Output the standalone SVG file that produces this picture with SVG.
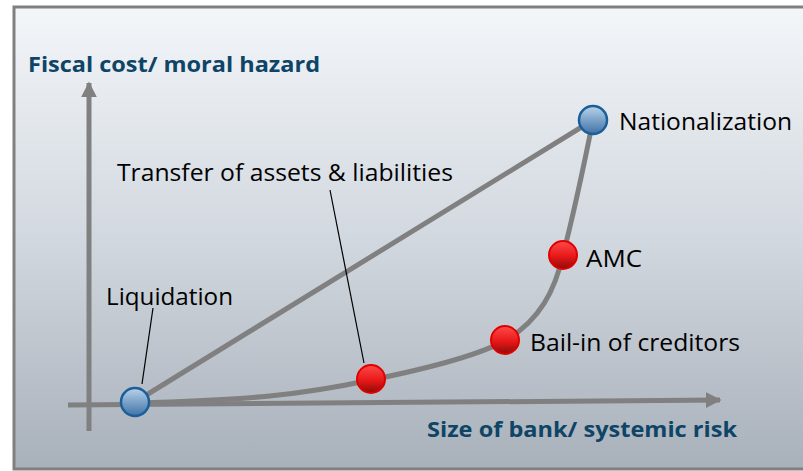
<svg xmlns="http://www.w3.org/2000/svg" width="803" height="471" viewBox="0 0 803 471">
<defs>
<linearGradient id="bg" x1="0" y1="0" x2="0" y2="1">
<stop offset="0" stop-color="#f3f6f9"/>
<stop offset="0.5" stop-color="#d2d8df"/>
<stop offset="1" stop-color="#a8b0ba"/>
</linearGradient>
<linearGradient id="blue" x1="0" y1="0" x2="0" y2="1">
<stop offset="0" stop-color="#b9d3ea"/>
<stop offset="1" stop-color="#3f72a6"/>
</linearGradient>
<linearGradient id="red" x1="0" y1="0" x2="0" y2="1">
<stop offset="0" stop-color="#ff4a4a"/>
<stop offset="0.55" stop-color="#e81818"/>
<stop offset="1" stop-color="#8e0a0a"/>
</linearGradient>
<marker id="ah" viewBox="0 0 10 10" refX="9" refY="5" markerWidth="3.2" markerHeight="3.2" markerUnits="strokeWidth" orient="auto">
<path d="M0,0 L10,5 L0,10 Z" fill="#808080"/>
</marker>
<style>
.axis{stroke:#808080;stroke-width:5;fill:none}
.curve{stroke:#808080;stroke-width:5;fill:none}
.lead{stroke:#000;stroke-width:1.2;fill:none}
.bn{fill:url(#blue);stroke:#1a5f99;stroke-width:2.5}
.rn{fill:url(#red);stroke:#e00000;stroke-width:2}
.lbl{font-family:"Open Sans","Noto Sans","Liberation Sans",sans-serif;font-size:23px;fill:#000}
.ttl{font-family:"Open Sans","Noto Sans","Liberation Sans",sans-serif;font-size:22px;font-weight:bold;fill:#0e4466}
</style>
</defs>
<rect x="14" y="7" width="795" height="462" fill="url(#bg)" stroke="#808080" stroke-width="3"/>
<g id="connectors">
<line class="axis" x1="89" y1="431" x2="89" y2="83" marker-end="url(#ah)"/>
<line class="axis" x1="68" y1="405" x2="720" y2="400" marker-end="url(#ah)"/>
<line class="curve" x1="135" y1="402" x2="593" y2="120"/>
<path class="curve" d="M135,403 C250,400 300,395 371,380 C430,368 480,355 506,340 C540,320 555,290 563,255 C572,220 585,160 593,120"/>
<line class="lead" x1="153" y1="308" x2="142" y2="384"/>
<line class="lead" x1="330" y1="190" x2="364" y2="363"/>
</g>
<g id="liquidation">
<circle class="bn" cx="135" cy="402" r="14"/>
<text class="lbl" x="106" y="305" textLength="127" lengthAdjust="spacingAndGlyphs">Liquidation</text>
</g>
<g id="nationalization">
<circle class="bn" cx="593" cy="120" r="14"/>
<text class="lbl" x="619" y="130" textLength="173" lengthAdjust="spacingAndGlyphs">Nationalization</text>
</g>
<g id="transfer">
<circle class="rn" cx="371" cy="379" r="14"/>
<text class="lbl" x="117" y="181" textLength="336" lengthAdjust="spacingAndGlyphs">Transfer of assets &amp; liabilities</text>
</g>
<g id="bailin">
<circle class="rn" cx="505" cy="340" r="14"/>
<text class="lbl" x="530" y="351" textLength="210" lengthAdjust="spacingAndGlyphs">Bail-in of creditors</text>
</g>
<g id="amc">
<circle class="rn" cx="563" cy="255" r="14"/>
<text class="lbl" x="586" y="267" textLength="56" lengthAdjust="spacingAndGlyphs">AMC</text>
</g>
<g id="ylabel">
<text class="ttl" x="28" y="72" textLength="292" lengthAdjust="spacingAndGlyphs">Fiscal cost/ moral hazard</text>
</g>
<g id="xlabel">
<text class="ttl" x="427" y="437" textLength="310" lengthAdjust="spacingAndGlyphs">Size of bank/ systemic risk</text>
</g>
</svg>
